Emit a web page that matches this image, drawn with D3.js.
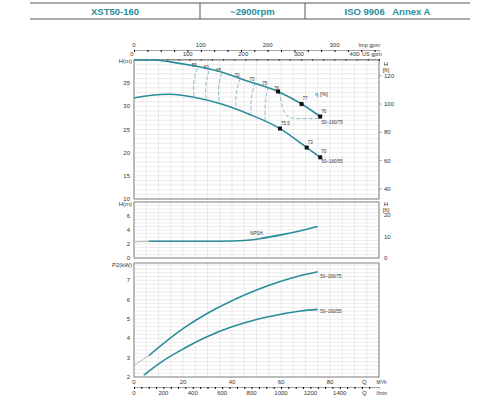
<!DOCTYPE html><html><head><meta charset="utf-8"><script src="https://d3js.org/d3.v7.min.js"></script>
<style>body{margin:0;background:#fff}text{font-family:"Liberation Sans",Arial,sans-serif}</style></head><body><svg id="c" width="500" height="400"></svg><script>
const headers=["XST50-160","~2900rpm","ISO 9906   Annex A"];
const headerSplits=[30,200,305,470];
const curve75=[[0,40],[8,40],[14.7,39.6],[25,38.7],[35,37.5],[45,35.7],[58.8,33.2],[68.4,30.5],[76,27.8]];
const curve55=[[0,31.8],[7,32.4],[14.7,32.6],[25,31.9],[35,30.6],[47,28.3],[59.6,25.2],[70.5,21.1],[76,19]];
const pts75=[[58.8,33.2,"76"],[68.4,30.5,"77"],[76,27.8,"76"]];
const pts55=[[59.6,25.2,"75.5"],[70.5,21.1,"73"],[76,19,"70"]];
const effLines=[["55",[[25.8,38.2],[24.0,35],[24.5,32.2]]],["60",[[30.7,37.7],[29.0,34.7],[29.4,31.7]]],["65",[[35.8,37.1],[34.2,34],[34.7,31.0]]],["70",[[43.3,36.0],[41.4,32.8],[41.6,29.6]]],["73",[[49.4,35.1],[47.6,31.8],[47.8,28.5]]],["75",[[54.6,34.2],[53.4,30.6],[53.5,27.0]]],["76",[[59.4,33.2],[60.4,29.6],[62.4,27.5],[66.5,27.3],[76,27.4]]]];
const npsh=[[6,2.4],[20,2.4],[35,2.4],[45,2.5],[52,2.8],[60,3.3],[68,3.9],[75,4.5]];
const npshExt=[[0,2.3],[6,2.4]];
const p75=[[6,3.1],[20,4.5],[30,5.3],[40,5.95],[50,6.5],[60,6.95],[68,7.25],[75,7.45]];
const p75Ext=[[0,2.6],[6,3.1]];
const p55=[[4,2.1],[12,2.85],[20,3.45],[30,4.1],[40,4.6],[50,4.98],[60,5.25],[68,5.42],[75,5.5]];
const qTicks=[0,20,40,60,80];const lminTicks=[0,200,400,600,800,1000,1200,1400];
const usTicks=[0,100,200,300,400];const impTicks=[0,100,200,300];
const hTicks=[10,15,20,25,30,35];const ftTicks=[40,60,80,100,120];
const nTicks=[0,2,4,6];const nftTicks=[0,10,20];const pTicks=[2,3,4,5,6,7];
const teal="#2b8c9a",txt="#333",grid="#d8d8d8";
const svg=d3.select("#c");
svg.append("line").attr("x1",30).attr("x2",470).attr("y1",3).attr("y2",3).attr("stroke","#555");
svg.append("line").attr("x1",30).attr("x2",470).attr("y1",19).attr("y2",19).attr("stroke","#555");
headerSplits.slice(1,3).forEach(x=>svg.append("line").attr("x1",x).attr("x2",x).attr("y1",3).attr("y2",19).attr("stroke","#555"));
headers.forEach((h,i)=>svg.append("text").attr("x",(headerSplits[i]+headerSplits[i+1])/2).attr("y",15).attr("text-anchor","middle").attr("font-size",9.5).attr("font-weight","bold").attr("fill",teal).attr("xml:space","preserve").text(h));
const x=d3.scaleLinear().domain([0,100]).range([134,379]);
const line=d3.line().x(d=>x(d[0])).curve(d3.curveMonotoneX);
const fs=6;
function panel(y0,y1,dom,step,minor){
 const y=d3.scaleLinear().domain(dom).range([y1,y0]);
 const g=svg.append("g");
 for(let v=0;v<=100;v+=5)g.append("line").attr("x1",x(v)).attr("x2",x(v)).attr("y1",y0).attr("y2",y1).attr("stroke",grid).attr("stroke-width",0.5);
 for(let v=dom[0];v<=dom[1]+1e-6;v+=minor)g.append("line").attr("x1",134).attr("x2",379).attr("y1",y(v)).attr("y2",y(v)).attr("stroke",grid).attr("stroke-width",0.5);
 g.append("rect").attr("x",134).attr("y",y0).attr("width",245).attr("height",y1-y0).attr("fill","none").attr("stroke","#666").attr("stroke-width",0.8);
 return y;}
function lab(xx,yy,t,a,s,c){svg.append("text").attr("x",xx).attr("y",yy).attr("text-anchor",a||"middle").attr("font-size",s||fs).attr("fill",c||txt).text(t);}
const us=d3.scaleLinear().domain([0,440.3]).range([134,379]);
const imp=d3.scaleLinear().domain([0,366.6]).range([134,379]);
svg.append("g").attr("transform","translate(0,50)").call(d3.axisBottom(imp).tickValues(d3.range(0,361,20)).tickSize(2).tickFormat(""));
svg.append("g").attr("transform","translate(0,59)").call(d3.axisBottom(us).tickValues(d3.range(0,441,20)).tickSize(2).tickFormat(""));
svg.selectAll(".domain").attr("stroke","#666").attr("stroke-width",0.6);
impTicks.forEach(v=>lab(imp(v),47,v));usTicks.forEach(v=>lab(us(v)-2,56,v));
lab(380,47,"Imp gpm","end",5.5);lab(362,56,"US gpm","start",5.5);
const yH=panel(60,199,[10,40],5,1);
const ftS=d3.scaleLinear().domain([10/0.3048,40/0.3048]).range([199,60]);
hTicks.forEach(v=>lab(130,yH(v)+2,v,"end"));ftTicks.forEach(v=>{lab(384,ftS(v)+2,v,"start");svg.append("line").attr("x1",379).attr("x2",382).attr("y1",ftS(v)).attr("y2",ftS(v)).attr("stroke","#666").attr("stroke-width",0.5);});
lab(132,63,"H(m)","end");lab(386,66,"H","middle");lab(386,72,"[ft]","middle");
line.y(d=>yH(d[1]));
effLines.forEach(([t,p])=>{svg.append("path").attr("d",d3.line().x(d=>x(d[0])).y(d=>yH(d[1])).curve(d3.curveBasis)(p)).attr("fill","none").attr("stroke","#8fbfc8").attr("stroke-width",1).attr("stroke-dasharray","4,2");lab(x(p[0][0])-3,yH(p[0][1])-1.5,t,"middle",4.5);});
[curve75,curve55].forEach(c=>svg.append("path").attr("d",line(c)).attr("fill","none").attr("stroke",teal).attr("stroke-width",1.6));
[...pts75,...pts55].forEach(p=>{svg.append("rect").attr("x",x(p[0])-2).attr("y",yH(p[1])-2).attr("width",4).attr("height",4).attr("fill","#111");});
pts75.slice(1).concat(pts55).forEach(p=>lab(x(p[0])+1,yH(p[1])-4,p[2],"start",4.5));
lab(x(74),yH(32.3),"η [%]","start",5.5);
lab(x(76.5),yH(26.7)+2,"50–160/75","start",4.5);lab(x(76.5),yH(18.2)+2,"50–160/55","start",4.5);
const yN=panel(202,258,[0,8],2,0.5);
const nft=d3.scaleLinear().domain([0,8/0.3048]).range([258,202]);
nTicks.forEach(v=>lab(130,yN(v)+2,v,"end"));nftTicks.forEach(v=>lab(384,nft(v)+2,v,"start"));
lab(132,206,"H(m)","end");lab(386,206,"H","middle");lab(386,212,"[ft]","middle");
line.y(d=>yN(d[1]));
svg.append("path").attr("d",line(npshExt)).attr("fill","none").attr("stroke","#bbb").attr("stroke-width",1);
svg.append("path").attr("d",line(npsh)).attr("fill","none").attr("stroke",teal).attr("stroke-width",1.6);
lab(x(50),yN(3.3),"NPSH","middle",4.5);
const yP=panel(263,377,[2,7.9],1,0.2);
pTicks.forEach(v=>lab(130,yP(v)+2,v,"end"));lab(132,267,"P2(kW)","end");
line.y(d=>yP(d[1]));
svg.append("path").attr("d",line(p75Ext)).attr("fill","none").attr("stroke","#bbb").attr("stroke-width",1);
[p75,p55].forEach(c=>svg.append("path").attr("d",line(c)).attr("fill","none").attr("stroke",teal).attr("stroke-width",1.6));
lab(x(76),yP(7.1),"50–160/75","start",4.5);lab(x(76),yP(5.3),"50–160/55","start",4.5);
qTicks.forEach(v=>lab(x(v),384,v));lab(x(94),384,"Q");lab(x(99),384,"M³/h","start",5);
const lm=d3.scaleLinear().domain([0,1666.7]).range([134,379]);
svg.append("g").attr("transform","translate(0,387)").call(d3.axisBottom(lm).tickValues(d3.range(0,1601,50)).tickSize(2).tickFormat(""));
svg.selectAll(".domain").attr("stroke","#666").attr("stroke-width",0.6);
lminTicks.forEach(v=>lab(lm(v),395,v));lab(x(94),395,"Q");lab(x(99),395,"l/min","start",5);
</script></body></html>
